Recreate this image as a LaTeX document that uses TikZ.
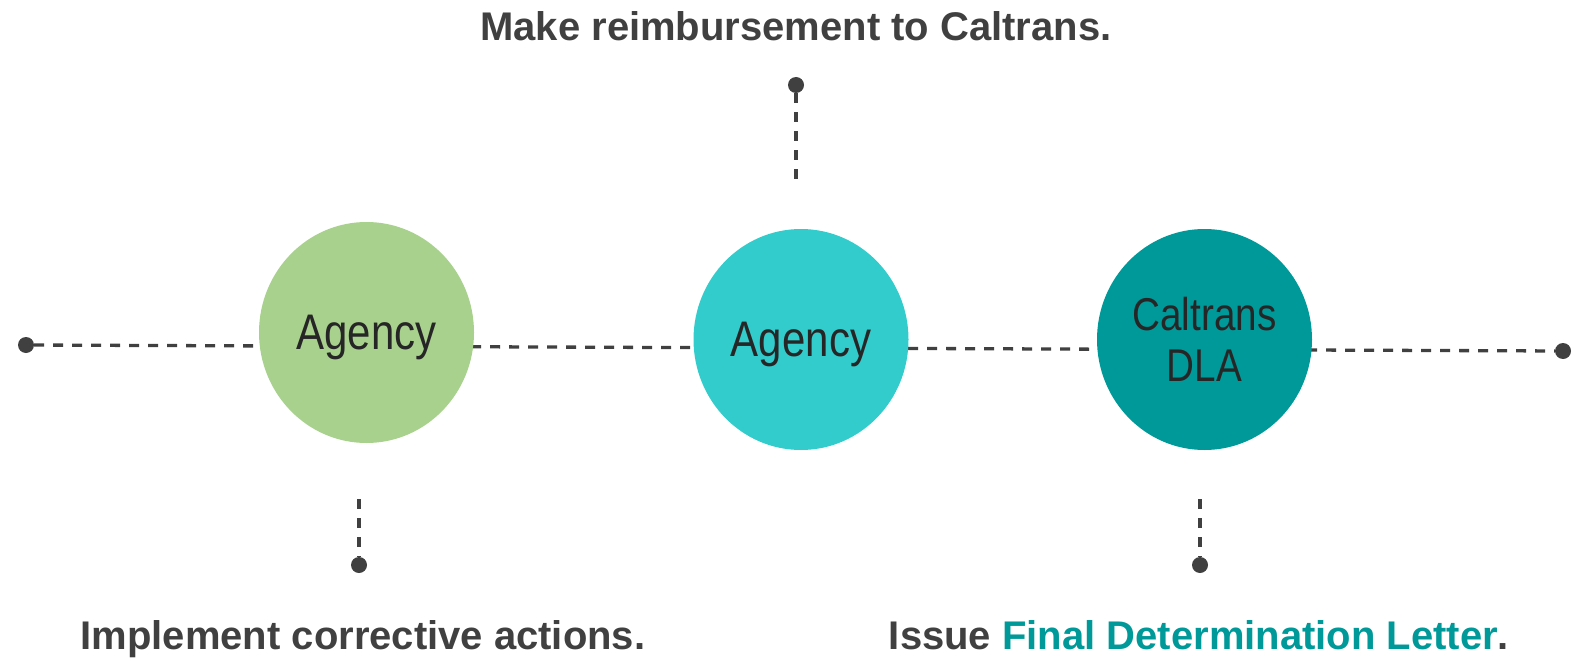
\documentclass[tikz,border=0pt]{standalone}
\usepackage{fontspec}
\setmainfont{Liberation Sans}
\newfontfamily\narrowfont[FakeStretch=0.84]{Liberation Sans}
\usetikzlibrary{shapes.geometric}
\definecolor{dk}{HTML}{404040}
\definecolor{txt}{HTML}{262626}
\definecolor{cgreen}{HTML}{A9D18E}
\definecolor{ccyan}{HTML}{33CCCC}
\definecolor{cteal}{HTML}{009999}
\begin{document}
\begin{tikzpicture}[x=1pt,y=-1pt,
  dashline/.style={draw=dk,line width=3.3pt,dash pattern=on 10pt off 9pt},
  dotnode/.style={circle,fill=dk,minimum size=16pt,inner sep=0pt},
  bubble/.style={ellipse,minimum width=215pt,minimum height=221pt,inner sep=0pt,
    text=txt,text depth=0pt,align=center},
  caption/.style={font=\bfseries\fontsize{40}{48}\selectfont,text=dk,anchor=base,inner sep=0pt}]
\useasboundingbox (0,0) rectangle (1589,658);

% end dots and free ends
\node[dotnode] (dotL) at (26,345) {};
\node[dotnode] (dotR) at (1563,351) {};
\node[dotnode] (dotT) at (796,85) {};
\node[dotnode] (dotBL) at (359,565) {};
\node[dotnode] (dotBR) at (1200,565) {};
\coordinate (endT) at (796,187);
\coordinate (endBL) at (359,499);
\coordinate (endBR) at (1200,499);

% connectors
\draw[dashline] (dotL) -- (dotR);
\draw[dashline] (dotT) -- (endT);
\draw[dashline] (endBL) -- (dotBL);
\draw[dashline] (endBR) -- (dotBR);

% circles
\node[bubble,fill=cgreen,font=\narrowfont\fontsize{50}{51}\selectfont] (green) at (366.5,332.5) {Agency};
\node[bubble,fill=ccyan,font=\narrowfont\fontsize{50}{51}\selectfont] (cyan) at (801,339.5) {Agency};
\node[bubble,fill=cteal,font=\narrowfont\fontsize{46}{51}\selectfont] (teal) at (1204.5,339.5) {Caltrans\\DLA};

% captions
\node[caption] (capT) at (796,41) {Make reimbursement to Caltrans.};
\node[caption] (capBL) at (363,649) {Implement corrective actions.};
\node[caption] (capBR) at (1199,649) {Issue \textcolor{cteal}{Final Determination Letter}.};
\end{tikzpicture}
\end{document}
